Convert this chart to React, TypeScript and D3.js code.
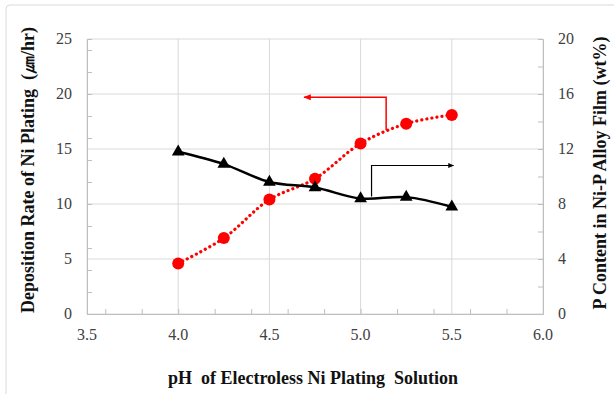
import React, { useRef, useEffect } from 'react'
import * as d3 from 'd3'

const phValues = [4.0, 4.25, 4.5, 4.75, 5.0, 5.25, 5.5]
const depositionRate = [4.6, 6.9, 10.4, 12.3, 15.5, 17.3, 18.1]
const pContent = [11.8, 10.9, 9.6, 9.2, 8.4, 8.5, 7.8]
const xTicks = [3.5, 4.0, 4.5, 5.0, 5.5, 6.0]
const leftTicks = [0, 5, 10, 15, 20, 25]
const rightTicks = [0, 4, 8, 12, 16, 20]

// arrow annotations in data units: [pH, value]
const redArrow = [[5.14, 16.7], [5.14, 19.7], [4.69, 19.7]]
const blackArrow = [[5.06, 8.55], [5.06, 10.8], [5.51, 10.8]]

const W = 614
const H = 394

const App = () => {
    const chartRef = useRef<HTMLDivElement>(null)

    useEffect(() => {
        document.body.style.margin = '0'
        if (chartRef.current) chartRef.current.innerHTML = ''

        const margin = { top: 39, right: 71, bottom: 80, left: 87 }
        const width = W - margin.left - margin.right
        const height = H - margin.top - margin.bottom

        const root = d3.select(chartRef.current)
            .append('svg')
            .attr('width', W)
            .attr('height', H)
            .style('display', 'block')

        root.append('rect')
            .attr('x', 6).attr('y', 5)
            .attr('width', W).attr('height', H + 10)
            .attr('rx', 4)
            .attr('fill', 'white')
            .attr('stroke', '#d9d9d9')

        const svg = root.append('g')
            .attr('transform', `translate(${margin.left}, ${margin.top})`)

        const x = d3.scaleLinear().domain([3.5, 6.0]).range([0, width])
        const yL = d3.scaleLinear().domain([0, 25]).range([height, 0])
        const yR = d3.scaleLinear().domain([0, 20]).range([height, 0])

        // grid
        svg.append('g').selectAll('line').data(xTicks).enter().append('line')
            .attr('x1', d => x(d)).attr('x2', d => x(d))
            .attr('y1', 0).attr('y2', height)
            .attr('stroke', '#d9d9d9').attr('stroke-width', 1)
        svg.append('g').selectAll('line').data(leftTicks).enter().append('line')
            .attr('x1', 0).attr('x2', width)
            .attr('y1', d => yL(d)).attr('y2', d => yL(d))
            .attr('stroke', '#d9d9d9').attr('stroke-width', 1)

        // axes (inside minor ticks)
        const axisColor = '#bfbfbf'
        const bottom = svg.append('g').attr('transform', `translate(0, ${height})`)
            .call(d3.axisTop(x).ticks(10).tickSize(5).tickFormat(() => ''))
        const left = svg.append('g')
            .call(d3.axisRight(yL).ticks(10).tickSize(5).tickFormat(() => ''))
        const right = svg.append('g').attr('transform', `translate(${width}, 0)`)
            .call(d3.axisLeft(yR).ticks(10).tickSize(5).tickFormat(() => ''))
        ;[bottom, left, right].forEach(g => {
            g.select('.domain').attr('stroke', axisColor)
            g.selectAll('.tick line').attr('stroke', axisColor)
        })

        const tickFont = (sel: any) => sel
            .attr('font-family', '"Liberation Serif", "Times New Roman", serif')
            .attr('font-size', 16)
            .attr('fill', '#404040')

        svg.append('g').selectAll('text').data(xTicks).enter().append('text')
            .attr('x', d => x(d)).attr('y', height + 26)
            .attr('text-anchor', 'middle')
            .text(d => d3.format('.1f')(d))
            .call(tickFont)
        svg.append('g').selectAll('text').data(leftTicks).enter().append('text')
            .attr('x', -15).attr('y', d => yL(d) + 5)
            .attr('text-anchor', 'end')
            .text(d => d)
            .call(tickFont)
        svg.append('g').selectAll('text').data(rightTicks).enter().append('text')
            .attr('x', width + 15).attr('y', d => yR(d) + 5)
            .attr('text-anchor', 'start')
            .text(d => d)
            .call(tickFont)

        // series
        const red = '#ff0000'
        svg.append('path')
            .datum(phValues.map((p, i) => [p, depositionRate[i]]))
            .attr('fill', 'none')
            .attr('stroke', red)
            .attr('stroke-width', 3.2)
            .attr('stroke-dasharray', '0.1 5')
            .attr('stroke-linecap', 'round')
            .attr('d', d3.line<any>().x(d => x(d[0])).y(d => yL(d[1])).curve(d3.curveCatmullRom))

        svg.append('path')
            .datum(phValues.map((p, i) => [p, pContent[i]]))
            .attr('fill', 'none')
            .attr('stroke', 'black')
            .attr('stroke-width', 2.5)
            .attr('d', d3.line<any>().x(d => x(d[0])).y(d => yR(d[1])).curve(d3.curveCatmullRom))

        svg.append('g').selectAll('circle').data(phValues).enter().append('circle')
            .attr('cx', d => x(d))
            .attr('cy', (d, i) => yL(depositionRate[i]))
            .attr('r', 6)
            .attr('fill', red)

        svg.append('g').selectAll('path').data(phValues).enter().append('path')
            .attr('d', d3.symbol().type(d3.symbolTriangle).size(70))
            .attr('transform', (d, i) => `translate(${x(d)}, ${yR(pContent[i])})`)
            .attr('fill', 'black')

        // arrows
        const defs = root.append('defs')
        const marker = (id: string, color: string) => defs.append('marker')
            .attr('id', id)
            .attr('viewBox', '0 0 10 10')
            .attr('refX', 9).attr('refY', 5)
            .attr('markerWidth', 5).attr('markerHeight', 5)
            .attr('orient', 'auto')
            .append('path').attr('d', 'M0,1 L10,5 L0,9 Z').attr('fill', color)
        marker('arrRed', red)
        marker('arrBlack', 'black')

        svg.append('path')
            .datum(redArrow)
            .attr('fill', 'none').attr('stroke', red).attr('stroke-width', 1.5)
            .attr('marker-end', 'url(#arrRed)')
            .attr('d', d3.line<any>().x(d => x(d[0])).y(d => yL(d[1])))
        svg.append('path')
            .datum(blackArrow)
            .attr('fill', 'none').attr('stroke', 'black').attr('stroke-width', 1.2)
            .attr('marker-end', 'url(#arrBlack)')
            .attr('d', d3.line<any>().x(d => x(d[0])).y(d => yR(d[1])))

        // titles
        const titleFont = (sel: any) => sel
            .attr('font-family', '"Liberation Serif", "Times New Roman", serif')
            .attr('font-size', 18)
            .attr('font-weight', 'bold')
            .attr('fill', '#111')
            .style('white-space', 'pre')

        root.append('text')
            .attr('transform', `translate(34, 170) rotate(-90)`)
            .attr('text-anchor', 'middle')
            .text('Deposition Rate of Ni Plating  (㎛/hr)')
            .call(titleFont)
        root.append('text')
            .attr('transform', `translate(606, 173) rotate(-90)`)
            .attr('text-anchor', 'middle')
            .text('P Content in Ni-P Alloy Film (wt%)')
            .call(titleFont)
        root.append('text')
            .attr('x', 313).attr('y', 384)
            .attr('text-anchor', 'middle')
            .text('pH  of Electroless Ni Plating  Solution')
            .call(titleFont)
    }, [])

    return (
        <div ref={chartRef}></div>
    )
}

export default App
